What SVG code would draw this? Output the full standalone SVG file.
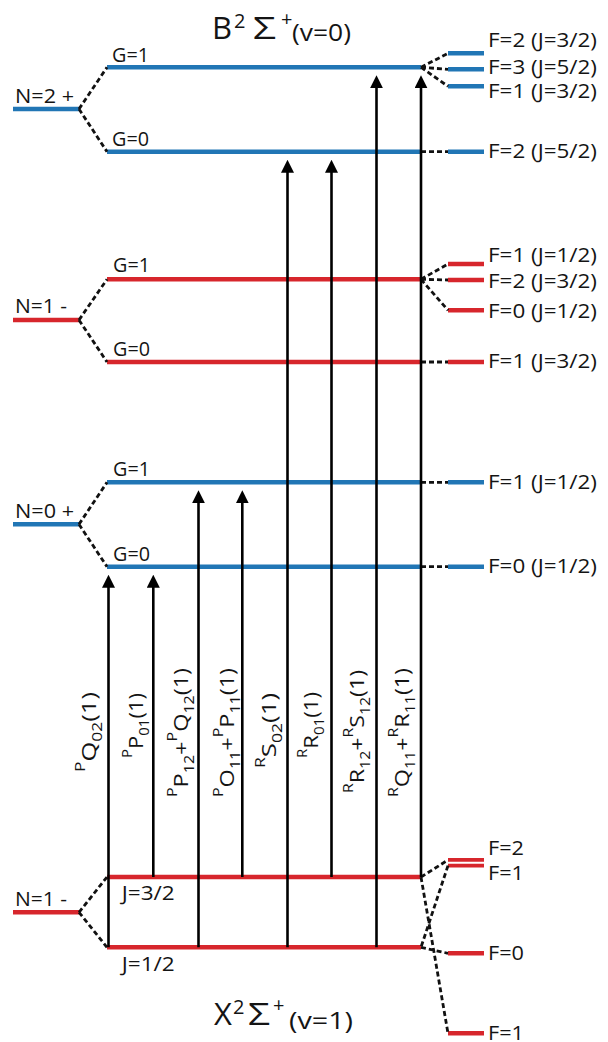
<svg xmlns="http://www.w3.org/2000/svg" width="608" height="1042" viewBox="0 0 608 1042">
<style>
text{font-family:"Open Sans","Liberation Sans",sans-serif;fill:#141414}
.lbl{font-size:19.5px}
.tl{font-size:20.5px}
.sm{font-size:14px}
.ttl{font-size:31px}
.tsup{font-size:20px}
.tpar{font-size:23px}
.blue{stroke:#2176b5;stroke-width:4.5;fill:none}
.red{stroke:#d7262c;stroke-width:4.5;fill:none}
.red2{stroke:#d7262c;stroke-width:3.8;fill:none}
.dash{stroke:#111;stroke-width:2.8;stroke-dasharray:5 3;fill:none}
.arr{stroke:#000;stroke-width:2.6;fill:none;marker-end:url(#ah)}
</style>
<defs>
<marker id="ah" viewBox="0 0 13 13" markerWidth="13" markerHeight="13" refX="5" refY="6.5" orient="auto" markerUnits="userSpaceOnUse">
<path d="M0,0 L13,6.5 L0,13 z" fill="#000"/>
</marker>
</defs>
<rect width="608" height="1042" fill="#fff"/>

<g id="titles">
<text x="212" y="39" class="ttl">B</text>
<text x="234" y="28" class="tsup">2</text>
<text x="253" y="39" class="ttl" textLength="23" lengthAdjust="spacingAndGlyphs">Σ</text>
<text x="281" y="26" class="tsup">+</text>
<text x="292" y="41" class="tpar" textLength="59" lengthAdjust="spacingAndGlyphs">(v=0)</text>
<text x="214" y="1025" class="ttl">X</text>
<text x="233" y="1014" class="tsup">2</text>
<text x="248" y="1025" class="ttl" textLength="22" lengthAdjust="spacingAndGlyphs">Σ</text>
<text x="273" y="1012" class="tsup">+</text>
<text x="289" y="1029" class="tpar" textLength="64" lengthAdjust="spacingAndGlyphs">(v=1)</text>
</g>

<!-- B state N=2 + -->
<g id="B-N2">
<line class="blue" x1="13" y1="109" x2="79" y2="109"/>
<text class="lbl" x="15" y="103" textLength="59" lengthAdjust="spacingAndGlyphs">N=2 +</text>
</g>
<g id="B-N2-G1">
<line class="blue" x1="107" y1="67.3" x2="421" y2="67.3"/>
<text class="lbl" x="112" y="61.5" textLength="37" lengthAdjust="spacingAndGlyphs">G=1</text>
</g>
<g id="B-N2-G0">
<line class="blue" x1="107" y1="151.7" x2="421" y2="151.7"/>
<text class="lbl" x="112" y="145.5" textLength="37" lengthAdjust="spacingAndGlyphs">G=0</text>
</g>
<g id="B-N2-F2a">
<line class="blue" x1="448" y1="53.3" x2="484" y2="53.3"/>
<text class="lbl" x="488" y="47.3" textLength="109" lengthAdjust="spacingAndGlyphs">F=2 (J=3/2)</text>
</g>
<g id="B-N2-F3">
<line class="blue" x1="448" y1="69.3" x2="484" y2="69.3"/>
<text class="lbl" x="488" y="74.3" textLength="109" lengthAdjust="spacingAndGlyphs">F=3 (J=5/2)</text>
</g>
<g id="B-N2-F1">
<line class="blue" x1="448" y1="86.3" x2="484" y2="86.3"/>
<text class="lbl" x="488" y="97.7" textLength="109" lengthAdjust="spacingAndGlyphs">F=1 (J=3/2)</text>
</g>
<g id="B-N2-F2b">
<line class="blue" x1="448" y1="151.7" x2="484" y2="151.7"/>
<text class="lbl" x="488" y="157.7" textLength="109" lengthAdjust="spacingAndGlyphs">F=2 (J=5/2)</text>
</g>

<!-- B state N=1 - -->
<g id="B-N1">
<line class="red" x1="13" y1="320" x2="79" y2="320"/>
<text class="lbl" x="15" y="313" textLength="52" lengthAdjust="spacingAndGlyphs">N=1 -</text>
</g>
<g id="B-N1-G1">
<line class="red" x1="107" y1="279.3" x2="421" y2="279.3"/>
<text class="lbl" x="113" y="271.7" textLength="37" lengthAdjust="spacingAndGlyphs">G=1</text>
</g>
<g id="B-N1-G0">
<line class="red" x1="107" y1="362" x2="421" y2="362"/>
<text class="lbl" x="113" y="356" textLength="37" lengthAdjust="spacingAndGlyphs">G=0</text>
</g>
<g id="B-N1-F1a">
<line class="red" x1="448" y1="264" x2="484" y2="264"/>
<text class="lbl" x="488" y="261.7" textLength="109" lengthAdjust="spacingAndGlyphs">F=1 (J=1/2)</text>
</g>
<g id="B-N1-F2">
<line class="red" x1="448" y1="280" x2="484" y2="280"/>
<text class="lbl" x="488" y="287.7" textLength="109" lengthAdjust="spacingAndGlyphs">F=2 (J=3/2)</text>
</g>
<g id="B-N1-F0">
<line class="red" x1="448" y1="310.3" x2="484" y2="310.3"/>
<text class="lbl" x="488" y="317.7" textLength="109" lengthAdjust="spacingAndGlyphs">F=0 (J=1/2)</text>
</g>
<g id="B-N1-F1b">
<line class="red" x1="448" y1="362" x2="484" y2="362"/>
<text class="lbl" x="488" y="368.3" textLength="109" lengthAdjust="spacingAndGlyphs">F=1 (J=3/2)</text>
</g>

<!-- B state N=0 + -->
<g id="B-N0">
<line class="blue" x1="13" y1="524.3" x2="79" y2="524.3"/>
<text class="lbl" x="15" y="518.3" textLength="59" lengthAdjust="spacingAndGlyphs">N=0 +</text>
</g>
<g id="B-N0-G1">
<line class="blue" x1="107" y1="482.3" x2="421" y2="482.3"/>
<text class="lbl" x="113" y="475.7" textLength="37" lengthAdjust="spacingAndGlyphs">G=1</text>
</g>
<g id="B-N0-G0">
<line class="blue" x1="107" y1="566.7" x2="421" y2="566.7"/>
<text class="lbl" x="113" y="560.7" textLength="37" lengthAdjust="spacingAndGlyphs">G=0</text>
</g>
<g id="B-N0-F1">
<line class="blue" x1="448" y1="482.3" x2="484" y2="482.3"/>
<text class="lbl" x="488" y="489.3" textLength="109" lengthAdjust="spacingAndGlyphs">F=1 (J=1/2)</text>
</g>
<g id="B-N0-F0">
<line class="blue" x1="448" y1="566.7" x2="484" y2="566.7"/>
<text class="lbl" x="488" y="573.3" textLength="109" lengthAdjust="spacingAndGlyphs">F=0 (J=1/2)</text>
</g>

<!-- X state N=1 - -->
<g id="X-N1">
<line class="red" x1="13" y1="912.3" x2="79" y2="912.3"/>
<text class="lbl" x="15" y="905.7" textLength="52" lengthAdjust="spacingAndGlyphs">N=1 -</text>
</g>
<g id="X-N1-J32">
<line class="red" x1="107" y1="877" x2="421" y2="877"/>
<text class="lbl" x="121.7" y="900" textLength="53" lengthAdjust="spacingAndGlyphs">J=3/2</text>
</g>
<g id="X-N1-J12">
<line class="red" x1="107" y1="947.3" x2="421" y2="947.3"/>
<text class="lbl" x="121.7" y="971" textLength="53" lengthAdjust="spacingAndGlyphs">J=1/2</text>
</g>
<g id="X-N1-F2">
<line class="red2" x1="448" y1="859.8" x2="484" y2="859.8"/>
<text class="lbl" x="488" y="854.5" textLength="36" lengthAdjust="spacingAndGlyphs">F=2</text>
</g>
<g id="X-N1-F1a">
<line class="red2" x1="448" y1="865.6" x2="484" y2="865.6"/>
<text class="lbl" x="488" y="880" textLength="36" lengthAdjust="spacingAndGlyphs">F=1</text>
</g>
<g id="X-N1-F0">
<line class="red" x1="448" y1="953.3" x2="484" y2="953.3"/>
<text class="lbl" x="488" y="960" textLength="36" lengthAdjust="spacingAndGlyphs">F=0</text>
</g>
<g id="X-N1-F1b">
<line class="red" x1="448" y1="1033.3" x2="484" y2="1033.3"/>
<text class="lbl" x="488" y="1039.5" textLength="36" lengthAdjust="spacingAndGlyphs">F=1</text>
</g>

<g id="connectors">
<!-- dashed splittings -->
<path class="dash" d="M79,109 L107,67.3 M79,109 L107,151.7"/>
<path class="dash" d="M421,67.3 L448,53.3 M421,67.3 L448,69.3 M421,67.3 L448,86.3 M421,151.7 L448,151.7"/>
<path class="dash" d="M79,320 L107,279.3 M79,320 L107,362"/>
<path class="dash" d="M421,279.3 L448,264 M421,279.3 L448,280 M421,279.3 L448,310.3 M421,362 L448,362"/>
<path class="dash" d="M79,524.3 L107,482.3 M79,524.3 L107,566.7"/>
<path class="dash" d="M421,482.3 L448,482.3 M421,566.7 L448,566.7"/>
<path class="dash" d="M79,912.3 L107,877 M79,912.3 L107,947.3"/>
<path class="dash" d="M421,877 L448,860 M421,877 L448,1033.3 M448,865.6 L421,947.3 M421,947.3 L448,953.3"/>
<!-- transitions -->
<line class="arr" x1="108.5" y1="947.3" x2="108.5" y2="582.7"/>
<line class="arr" x1="153.3" y1="877" x2="153.3" y2="582.7"/>
<line class="arr" x1="198.5" y1="947.3" x2="198.5" y2="498.3"/>
<line class="arr" x1="242.3" y1="877" x2="242.3" y2="498.3"/>
<line class="arr" x1="287.5" y1="947.3" x2="287.5" y2="167.7"/>
<line class="arr" x1="331.5" y1="877" x2="331.5" y2="167.7"/>
<line class="arr" x1="376.5" y1="947.3" x2="376.5" y2="83.3"/>
<line class="arr" x1="421" y1="877" x2="421" y2="83.3"/>
</g>

<g id="transition-labels" class="tl">
<text transform="translate(96,772) rotate(-90)" textLength="80" lengthAdjust="spacingAndGlyphs"><tspan class="sm" dy="-11">P</tspan><tspan dy="11">Q</tspan><tspan class="sm" dy="6">02</tspan><tspan dy="-6">(1)</tspan></text>
<text transform="translate(143,758) rotate(-90)" textLength="65" lengthAdjust="spacingAndGlyphs"><tspan class="sm" dy="-11">P</tspan><tspan dy="11">P</tspan><tspan class="sm" dy="6">01</tspan><tspan dy="-6">(1)</tspan></text>
<text transform="translate(188,797) rotate(-90)" textLength="129" lengthAdjust="spacingAndGlyphs"><tspan class="sm" dy="-11">P</tspan><tspan dy="11">P</tspan><tspan class="sm" dy="6">12</tspan><tspan dy="-6">+</tspan><tspan class="sm" dy="-11">P</tspan><tspan dy="11">Q</tspan><tspan class="sm" dy="6">12</tspan><tspan dy="-6">(1)</tspan></text>
<text transform="translate(234,797) rotate(-90)" textLength="129" lengthAdjust="spacingAndGlyphs"><tspan class="sm" dy="-11">P</tspan><tspan dy="11">O</tspan><tspan class="sm" dy="6">11</tspan><tspan dy="-6">+</tspan><tspan class="sm" dy="-11">P</tspan><tspan dy="11">P</tspan><tspan class="sm" dy="6">11</tspan><tspan dy="-6">(1)</tspan></text>
<text transform="translate(276,768) rotate(-90)" textLength="75" lengthAdjust="spacingAndGlyphs"><tspan class="sm" dy="-11">R</tspan><tspan dy="11">S</tspan><tspan class="sm" dy="6">02</tspan><tspan dy="-6">(1)</tspan></text>
<text transform="translate(318,758) rotate(-90)" textLength="66" lengthAdjust="spacingAndGlyphs"><tspan class="sm" dy="-11">R</tspan><tspan dy="11">R</tspan><tspan class="sm" dy="6">01</tspan><tspan dy="-6">(1)</tspan></text>
<text transform="translate(364,793) rotate(-90)" textLength="123" lengthAdjust="spacingAndGlyphs"><tspan class="sm" dy="-11">R</tspan><tspan dy="11">R</tspan><tspan class="sm" dy="6">12</tspan><tspan dy="-6">+</tspan><tspan class="sm" dy="-11">R</tspan><tspan dy="11">S</tspan><tspan class="sm" dy="6">12</tspan><tspan dy="-6">(1)</tspan></text>
<text transform="translate(409,797) rotate(-90)" textLength="129" lengthAdjust="spacingAndGlyphs"><tspan class="sm" dy="-11">R</tspan><tspan dy="11">Q</tspan><tspan class="sm" dy="6">11</tspan><tspan dy="-6">+</tspan><tspan class="sm" dy="-11">R</tspan><tspan dy="11">R</tspan><tspan class="sm" dy="6">11</tspan><tspan dy="-6">(1)</tspan></text>
</g>
</svg>
